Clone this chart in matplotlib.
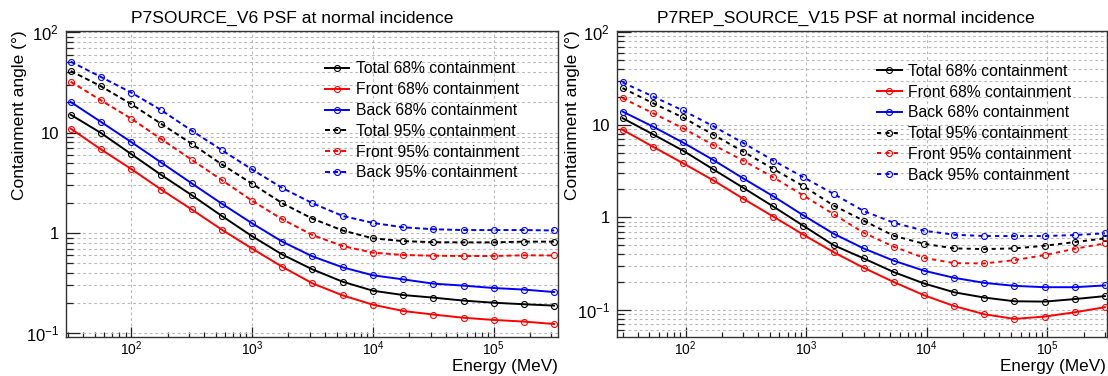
import numpy as np
import matplotlib
matplotlib.use('Agg')
import matplotlib.pyplot as plt
from matplotlib.ticker import LogLocator, FuncFormatter, NullFormatter

plt.rcParams['font.family'] = ['Liberation Sans', 'DejaVu Sans']
plt.rcParams['mathtext.fontset'] = 'custom'
plt.rcParams['mathtext.rm'] = 'Liberation Sans'
plt.rcParams['mathtext.it'] = 'Liberation Sans:italic'
plt.rcParams['mathtext.bf'] = 'Liberation Sans:bold'
plt.rcParams['lines.scale_dashes'] = False

# ---------------- data ----------------
labels = ["Total 68% containment", "Front 68% containment", "Back 68% containment",
          "Total 95% containment", "Front 95% containment", "Back 95% containment"]
colors = ["#000000", "#ff0000", "#0000ff", "#000000", "#ff0000", "#0000ff"]
is_95 = [False, False, False, True, True, True]

# Left panel: P7SOURCE_V6
energy_v6 = [31.6, 56.2, 100, 178, 316, 562, 1000, 1780, 3160, 5620, 10000,
             17800, 31600, 56200, 100000, 178000, 316000]
v6_total68 = [15.1, 9.93, 6.12, 3.78, 2.39, 1.48, 0.93, 0.61, 0.434, 0.327, 0.266,
              0.241, 0.227, 0.212, 0.202, 0.195, 0.189]
v6_front68 = [10.96, 6.82, 4.35, 2.70, 1.72, 1.08, 0.70, 0.46, 0.315, 0.239, 0.193,
              0.167, 0.154, 0.143, 0.136, 0.131, 0.124]
v6_back68 = [20.2, 12.8, 8.07, 5.02, 3.13, 1.96, 1.25, 0.82, 0.585, 0.455, 0.379,
             0.345, 0.313, 0.299, 0.283, 0.273, 0.258]
v6_total95 = [41.2, 29.0, 19.3, 12.2, 7.76, 4.83, 3.10, 1.98, 1.39, 1.06, 0.885,
              0.83, 0.81, 0.807, 0.807, 0.82, 0.82]
v6_front95 = [32.2, 21.0, 13.8, 8.6, 5.38, 3.37, 2.10, 1.37, 0.955, 0.741, 0.637,
              0.604, 0.594, 0.59, 0.59, 0.60, 0.597]
v6_back95 = [51.0, 35.9, 25.1, 16.7, 10.5, 6.7, 4.3, 2.81, 1.98, 1.48, 1.26,
             1.14, 1.09, 1.07, 1.07, 1.07, 1.06]

# Right panel: P7REP_SOURCE_V15
energy_v15 = [30, 53.3, 94.9, 169, 300, 533, 949, 1690, 3000, 5330, 9490,
              16900, 30000, 53300, 94900, 169000, 300000]
v15_total68 = [11.8, 7.92, 5.27, 3.31, 2.09, 1.31, 0.81, 0.50, 0.36, 0.256, 0.193,
               0.155, 0.136, 0.124, 0.123, 0.131, 0.141]
v15_front68 = [8.83, 5.82, 3.85, 2.52, 1.59, 1.02, 0.649, 0.42, 0.285, 0.20, 0.144,
               0.110, 0.0898, 0.080, 0.0848, 0.0944, 0.107]
v15_back68 = [13.9, 9.6, 6.44, 4.18, 2.64, 1.69, 1.05, 0.665, 0.461, 0.34, 0.265,
              0.222, 0.196, 0.182, 0.176, 0.176, 0.184]
v15_total95 = [24.9, 17.2, 12.0, 7.85, 5.14, 3.34, 2.17, 1.34, 0.92, 0.632, 0.518,
               0.462, 0.454, 0.462, 0.493, 0.541, 0.593]
v15_front95 = [19.4, 13.4, 9.2, 6.07, 4.11, 2.71, 1.72, 1.08, 0.682, 0.481, 0.365,
               0.32, 0.318, 0.345, 0.391, 0.458, 0.523]
v15_back95 = [28.7, 20.3, 14.3, 9.68, 6.38, 4.11, 2.71, 1.79, 1.17, 0.875, 0.717,
              0.649, 0.628, 0.628, 0.628, 0.644, 0.672]

title_v6 = "P7SOURCE_V6 PSF at normal incidence"
title_v15 = "P7REP_SOURCE_V15 PSF at normal incidence"
ylabel = "Containment angle (°)"
xlabel = "Energy (MeV)"

# ---------------- figure ----------------
W, H = 1108, 376
fig = plt.figure(figsize=(W / 100, H / 100), dpi=100)


def fmt(v, pos):
    e = int(round(np.log10(v)))
    if e == 0:
        return '1'
    if e == 1:
        return '10'
    return r'$\mathregular{10^{%d}}$' % e


def panel(rect, energy, series, xlim, ylim, dash, leg_anchor):
    ax = fig.add_axes(rect)
    ax.set_xscale('log')
    ax.set_yscale('log')
    for vals, lab, col, d95 in zip(series, labels, colors, is_95):
        ls = (0, dash) if d95 else '-'
        ax.plot(energy, vals, color=col, lw=1.4, ls=ls, marker='o', ms=4.3,
                mfc='none', mec=col, mew=0.8, label=lab)
    ax.set_xlim(*xlim)
    ax.set_ylim(*ylim)
    ax.xaxis.set_major_locator(LogLocator(base=10, numticks=20))
    ax.xaxis.set_minor_locator(LogLocator(base=10, subs=np.arange(2, 10), numticks=20))
    ax.yaxis.set_major_locator(LogLocator(base=10, numticks=20))
    ax.yaxis.set_minor_locator(LogLocator(base=10, subs=np.arange(2, 10), numticks=20))
    ax.xaxis.set_major_formatter(FuncFormatter(fmt))
    ax.yaxis.set_major_formatter(FuncFormatter(fmt))
    ax.xaxis.set_minor_formatter(NullFormatter())
    ax.yaxis.set_minor_formatter(NullFormatter())
    ax.tick_params(axis='both', which='both', direction='in', top=False, right=False,
                   width=0.9, color='#222222')
    ax.tick_params(axis='y', which='major', length=10, pad=5, labelsize=12)
    ax.tick_params(axis='y', which='minor', length=5)
    ax.tick_params(axis='x', which='major', length=7, pad=2, labelsize=10)
    ax.tick_params(axis='x', which='minor', length=3.6)
    gstyle = dict(color='#b8b8b8', lw=0.8, ls=(0, (2, 2)))
    ax.grid(True, which='major', axis='both', **gstyle)
    ax.grid(True, which='minor', axis='y', **gstyle)
    ax.set_axisbelow(True)
    for s in ax.spines.values():
        s.set_color('#333333')
        s.set_linewidth(1.0)
    ax.legend(loc='upper left', bbox_to_anchor=leg_anchor, frameon=False,
              fontsize=11.3, handlelength=1.55, handletextpad=0.42,
              labelspacing=0.37, borderpad=0, borderaxespad=0, numpoints=1)
    return ax


# left panel
ax1 = panel([66 / W, 39 / H, 492 / W, 306 / H], energy_v6,
            [v6_total68, v6_front68, v6_back68, v6_total95, v6_front95, v6_back95],
            (28.9, 3.4e5), (0.092, 103), (3.6, 2.2), (0.526, 0.9005))
# right panel
ax2 = panel([617 / W, 39 / H, 490 / W, 306 / H], energy_v15,
            [v15_total68, v15_front68, v15_back68, v15_total95, v15_front95, v15_back95],
            (27, 3.12e5), (0.051, 103), (3.0, 3.0), (0.531, 0.893))

# titles and axis titles
fig.text(292 / W, 1 - 18 / H, title_v6, ha='center', va='center', fontsize=12.6)
fig.text(846 / W, 1 - 18 / H, title_v15, ha='center', va='center', fontsize=12.6)
fig.text(20 / W, 1 - 30 / H, ylabel, rotation=90, ha='center', va='top', fontsize=12.5)
fig.text(572 / W, 1 - 30 / H, ylabel, rotation=90, ha='center', va='top', fontsize=12.5)
fig.text(558 / W, 1 - 358.5 / H, xlabel, ha='right', va='top', fontsize=12.3)
fig.text(1106 / W, 1 - 358.5 / H, xlabel, ha='right', va='top', fontsize=12.3)

fig.savefig('out.png', dpi=100)
